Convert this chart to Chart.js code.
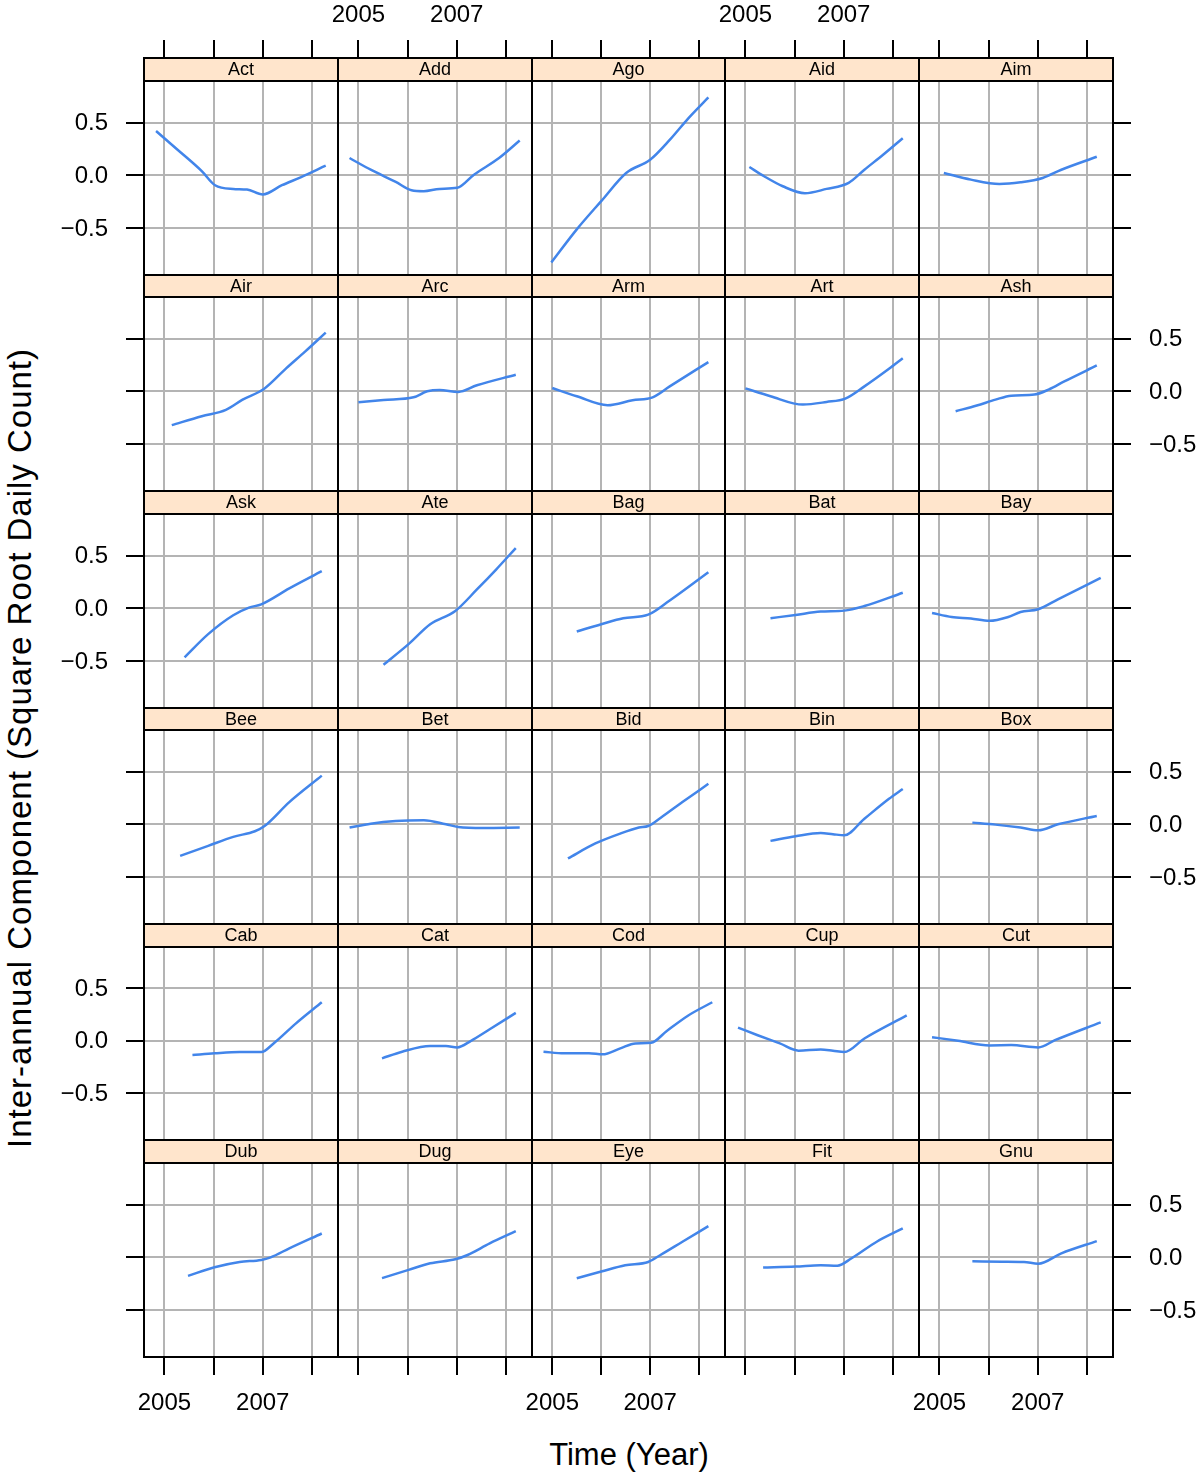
<!DOCTYPE html>
<html>
<head>
<meta charset="utf-8">
<script src="https://cdn.jsdelivr.net/npm/chart.js@4.4.1/dist/chart.umd.min.js"></script>
<style>
  body { margin: 0; width: 1200px; height: 1481px; background: #fff; position: relative; overflow: hidden;
         font-family: "Liberation Sans", Arial, Helvetica, sans-serif; }
  canvas { position: absolute; }
  #xlab { position: absolute; left: 629px; top: 1437px; transform: translateX(-50%); font-size: 31px; line-height: 36px; white-space: nowrap; }
  #ylab { position: absolute; left: 20px; top: 748px; transform: translate(-50%, -50%) rotate(-90deg); font-size: 33px; letter-spacing: 1px; line-height: 36px; white-space: nowrap; }
</style>
</head>
<body>
<div id="ylab">Inter-annual Component (Square Root Daily Count)</div>
<div id="xlab">Time (Year)</div>
<script>
// panel names, in reading order (5 columns x 6 rows)
const names = ['Act','Add','Ago','Aid','Aim',
               'Air','Arc','Arm','Art','Ash',
               'Ask','Ate','Bag','Bat','Bay',
               'Bee','Bet','Bid','Bin','Box',
               'Cab','Cat','Cod','Cup','Cut',
               'Dub','Dug','Eye','Fit','Gnu'];

// [year, inter-annual component]
const Act = [[2004.83,0.42],[2005.25,0.25],[2005.76,0.04],[2006.03,-0.094],[2006.40,-0.129],[2006.68,-0.135],[2007.0,-0.182],[2007.39,-0.094],[2007.77,-0.019],[2008.28,0.091]];
const Add = [[2004.82,0.164],[2005.25,0.053],[2005.76,-0.063],[2006.08,-0.142],[2006.33,-0.151],[2006.65,-0.129],[2007.01,-0.119],[2007.35,0.006],[2007.86,0.164],[2008.28,0.33]];
const Ago = [[2004.98,-0.827],[2005.50,-0.513],[2006.0,-0.245],[2006.51,0.022],[2007.0,0.148],[2007.40,0.336],[2007.78,0.541],[2008.19,0.739]];
const Aid = [[2005.08,0.079],[2005.38,-0.009],[2005.76,-0.104],[2006.21,-0.17],[2006.65,-0.129],[2007.10,-0.072],[2007.42,0.053],[2007.80,0.195],[2008.20,0.352]];
const Aim = [[2005.09,0.022],[2005.64,-0.041],[2006.22,-0.082],[2006.65,-0.066],[2007.10,-0.025],[2007.48,0.053],[2008.20,0.176]];

const Air = [[2005.15,-0.321],[2005.76,-0.236],[2006.25,-0.176],[2006.59,-0.079],[2007.03,0.025],[2007.48,0.22],[2007.86,0.377],[2008.28,0.557]];
const Arc = [[2005.0,-0.104],[2005.51,-0.082],[2006.12,-0.057],[2006.40,0.0],[2006.65,0.013],[2007.03,-0.006],[2007.41,0.057],[2008.20,0.157]];
const Arm = [[2005.0,0.031],[2005.50,-0.047],[2006.13,-0.132],[2006.64,-0.085],[2007.05,-0.057],[2007.40,0.047],[2008.19,0.277]];
const Art = [[2005.0,0.028],[2005.51,-0.047],[2006.17,-0.126],[2006.65,-0.101],[2007.03,-0.069],[2007.42,0.047],[2007.92,0.214],[2008.20,0.314]];
const Ash = [[2005.33,-0.189],[2005.76,-0.135],[2006.14,-0.079],[2006.46,-0.041],[2006.93,-0.031],[2007.22,0.016],[2007.54,0.094],[2008.20,0.245]];

const Ask = [[2005.41,-0.465],[2005.89,-0.245],[2006.40,-0.066],[2006.72,0.006],[2006.97,0.038],[2007.54,0.189],[2008.20,0.352]];
const Ate = [[2005.51,-0.535],[2006.02,-0.34],[2006.46,-0.151],[2006.97,-0.025],[2007.41,0.179],[2007.80,0.368],[2008.20,0.572]];
const Bag = [[2005.50,-0.22],[2006.0,-0.151],[2006.45,-0.094],[2006.96,-0.06],[2007.40,0.075],[2008.19,0.343]];
const Bat = [[2005.51,-0.094],[2006.02,-0.063],[2006.53,-0.031],[2007.01,-0.022],[2007.42,0.022],[2008.20,0.148]];
const Bay = [[2004.85,-0.044],[2005.25,-0.082],[2005.64,-0.097],[2006.02,-0.119],[2006.40,-0.082],[2006.65,-0.035],[2007.01,-0.009],[2007.41,0.085],[2008.28,0.289]];

const Bee = [[2005.32,-0.299],[2005.89,-0.204],[2006.40,-0.119],[2006.84,-0.066],[2007.03,-0.019],[2007.54,0.211],[2008.20,0.462]];
const Bet = [[2004.82,-0.031],[2005.25,0.006],[2005.76,0.031],[2006.33,0.038],[2006.78,0.0],[2007.03,-0.025],[2007.54,-0.035],[2008.28,-0.031]];
const Bid = [[2005.32,-0.324],[2005.88,-0.182],[2006.39,-0.088],[2006.77,-0.031],[2006.96,-0.016],[2007.21,0.06],[2007.66,0.211],[2008.19,0.384]];
const Bin = [[2005.51,-0.157],[2006.02,-0.113],[2006.53,-0.082],[2006.78,-0.094],[2007.01,-0.104],[2007.42,0.053],[2007.92,0.242],[2008.20,0.336]];
const Box = [[2005.67,0.016],[2006.14,-0.003],[2006.65,-0.031],[2007.01,-0.057],[2007.41,0.0],[2008.20,0.079]];

const Cab = [[2005.57,-0.135],[2006.02,-0.119],[2006.53,-0.107],[2006.97,-0.107],[2007.22,-0.025],[2007.67,0.164],[2008.20,0.368]];
const Cat = [[2005.48,-0.167],[2005.89,-0.104],[2006.46,-0.05],[2006.78,-0.05],[2007.01,-0.063],[2007.29,0.0],[2007.67,0.11],[2008.20,0.267]];
const Cod = [[2004.82,-0.104],[2005.24,-0.119],[2005.75,-0.119],[2006.03,-0.129],[2006.39,-0.072],[2006.70,-0.025],[2007.02,-0.019],[2007.34,0.094],[2007.78,0.242],[2008.27,0.368]];
const Cup = [[2004.85,0.126],[2005.25,0.053],[2005.70,-0.025],[2006.08,-0.094],[2006.53,-0.082],[2006.78,-0.094],[2007.01,-0.107],[2007.42,0.022],[2008.28,0.242]];
const Cut = [[2004.85,0.035],[2005.38,0.0],[2006.02,-0.044],[2006.46,-0.041],[2007.01,-0.063],[2007.35,0.006],[2008.28,0.176]];

const Dub = [[2005.48,-0.176],[2006.02,-0.094],[2006.53,-0.044],[2006.97,-0.025],[2007.16,0.0],[2007.54,0.085],[2008.20,0.226]];
const Dug = [[2005.48,-0.198],[2006.02,-0.119],[2006.46,-0.057],[2006.97,-0.019],[2007.22,0.022],[2007.67,0.132],[2008.20,0.248]];
const Eye = [[2005.50,-0.198],[2006.0,-0.135],[2006.49,-0.075],[2006.96,-0.044],[2007.21,0.022],[2007.66,0.148],[2008.19,0.296]];
const Fit = [[2005.36,-0.097],[2006.02,-0.088],[2006.53,-0.075],[2006.87,-0.079],[2007.16,-0.009],[2007.67,0.148],[2008.20,0.274]];
const Gnu = [[2005.67,-0.038],[2006.27,-0.041],[2006.72,-0.044],[2007.01,-0.06],[2007.48,0.038],[2008.20,0.154]];

const series = [Act, Add, Ago, Aid, Aim, Air, Arc, Arm, Art, Ash, Ask, Ate, Bag, Bat, Bay,
                Bee, Bet, Bid, Bin, Box, Cab, Cat, Cod, Cup, Cut, Dub, Dug, Eye, Fit, Gnu];

const yearTicks = [2005, 2006, 2007, 2008];
const yearLabels = [2005, 2007];
const valueTicks = [-0.5, 0, 0.5];
const xRange = [2004.585, 2008.53];
const yRange = [-0.946, 0.895];

// layout of the lattice
const NCOL = 5, NROW = 6;
const LEFT = 144, COL_W = 193.8;
const TOP = 58.3, ROW_H = 216.4, STRIP_H = 22.6;
const M = 90; // canvas margin round each panel
const FONT = '"Liberation Sans", Arial, Helvetica, sans-serif';

function fmt(v) {
  if (v < 0) return '\u2212' + (-v).toFixed(1);
  return v.toFixed(1);
}

const latticePlugin = {
  id: 'lattice',
  afterDraw(chart, args, opts) {
    const ctx = chart.ctx, a = chart.chartArea;
    const xs = chart.scales.x, ys = chart.scales.y;
    const row = opts.row, col = opts.col;
    const st = a.top - opts.strip;
    ctx.save();
    // strip
    ctx.fillStyle = '#ffe5cc';
    ctx.fillRect(a.left, st, a.right - a.left, opts.strip);
    ctx.strokeStyle = '#000';
    ctx.lineWidth = 2;
    ctx.strokeRect(a.left, st, a.right - a.left, opts.strip);
    ctx.strokeRect(a.left, a.top, a.right - a.left, a.bottom - a.top);
    ctx.fillStyle = '#000';
    ctx.font = '18px ' + FONT;
    ctx.textAlign = 'center';
    ctx.textBaseline = 'middle';
    ctx.fillText(opts.title, (a.left + a.right) / 2, st + opts.strip / 2 + 1);

    // axes on the outside of the layout, labels alternating
    ctx.font = '24px ' + FONT;
    ctx.beginPath();
    if (row === 0) {
      yearTicks.forEach(v => { const x = Math.round(xs.getPixelForValue(v)); ctx.moveTo(x, st); ctx.lineTo(x, st - 18); });
      if (col % 2 === 1) yearLabels.forEach(v => ctx.fillText(String(v), xs.getPixelForValue(v), st - 43));
    }
    if (row === NROW - 1) {
      yearTicks.forEach(v => { const x = Math.round(xs.getPixelForValue(v)); ctx.moveTo(x, a.bottom); ctx.lineTo(x, a.bottom + 18); });
      if (col % 2 === 0) yearLabels.forEach(v => ctx.fillText(String(v), xs.getPixelForValue(v), a.bottom + 46));
    }
    if (col === 0) {
      valueTicks.forEach(v => { const y = Math.round(ys.getPixelForValue(v)); ctx.moveTo(a.left, y); ctx.lineTo(a.left - 18, y); });
      if (row % 2 === 0) {
        ctx.textAlign = 'right';
        valueTicks.forEach(v => ctx.fillText(fmt(v), a.left - 36, ys.getPixelForValue(v) + 1));
      }
    }
    if (col === NCOL - 1) {
      valueTicks.forEach(v => { const y = Math.round(ys.getPixelForValue(v)); ctx.moveTo(a.right, y); ctx.lineTo(a.right + 18, y); });
      if (row % 2 === 1) {
        ctx.textAlign = 'left';
        valueTicks.forEach(v => ctx.fillText(fmt(v), a.right + 36, ys.getPixelForValue(v) + 1));
      }
    }
    ctx.stroke();
    ctx.restore();
  }
};

names.forEach((name, i) => {
  const row = Math.floor(i / NCOL), col = i % NCOL;
  const pl = Math.round(LEFT + col * COL_W), pr = Math.round(LEFT + (col + 1) * COL_W);
  const stTop = Math.round(TOP + row * ROW_H);
  const pt = Math.round(TOP + row * ROW_H + STRIP_H), pb = Math.round(TOP + (row + 1) * ROW_H);
  const strip = pt - stTop;

  const cv = document.createElement('canvas');
  cv.width = pr - pl + 2 * M;
  cv.height = pb - stTop + 2 * M;
  cv.style.left = (pl - M) + 'px';
  cv.style.top = (stTop - M) + 'px';
  document.body.appendChild(cv);

  new Chart(cv.getContext('2d'), {
    type: 'line',
    data: {
      datasets: [{
        label: name,
        data: series[i].map(p => ({ x: p[0], y: p[1] })),
        borderColor: '#4285ea',
        borderWidth: 2.5,
        pointRadius: 0,
        cubicInterpolationMode: 'monotone',
        fill: false
      }]
    },
    options: {
      responsive: false,
      animation: false,
      events: [],
      layout: { padding: { left: M, right: M, top: M + strip, bottom: M } },
      scales: {
        x: {
          type: 'linear', min: xRange[0], max: xRange[1],
          afterBuildTicks: s => { s.ticks = yearTicks.map(v => ({ value: v })); },
          afterFit: s => { s.height = 0; },
          ticks: { display: false },
          grid: { color: '#b4b4b4', lineWidth: 2, drawTicks: false },
          border: { display: false }
        },
        y: {
          type: 'linear', min: yRange[0], max: yRange[1],
          afterBuildTicks: s => { s.ticks = valueTicks.map(v => ({ value: v })); },
          afterFit: s => { s.width = 0; },
          ticks: { display: false },
          grid: { color: '#b4b4b4', lineWidth: 2, drawTicks: false },
          border: { display: false }
        }
      },
      plugins: {
        legend: { display: false },
        tooltip: { enabled: false },
        lattice: { row: row, col: col, title: name, strip: strip }
      }
    },
    plugins: [latticePlugin]
  });
});
</script>
</body>
</html>
